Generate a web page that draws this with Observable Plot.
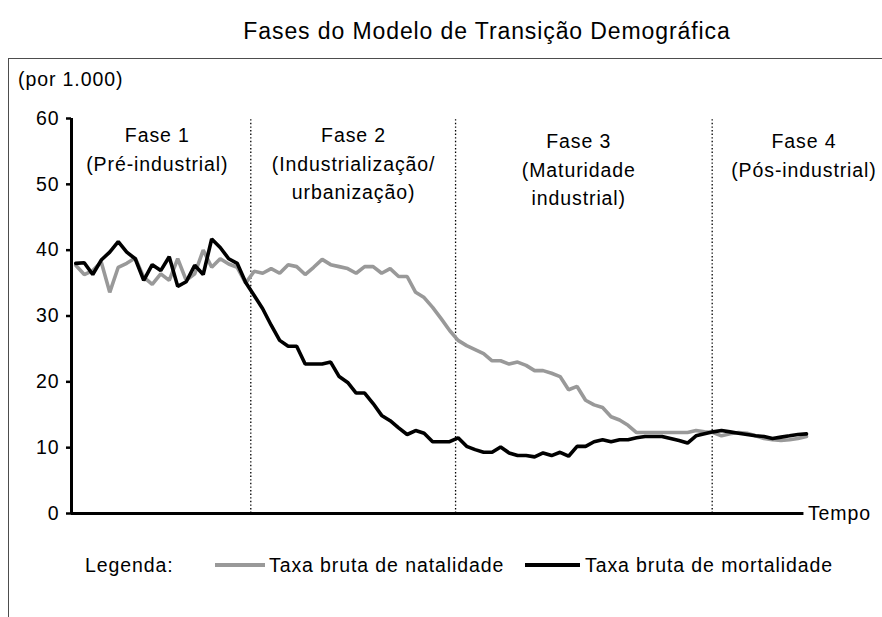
<!DOCTYPE html>
<html>
<head>
<meta charset="utf-8">
<script src="https://cdn.jsdelivr.net/npm/d3@7"></script>
<script src="https://cdn.jsdelivr.net/npm/@observablehq/plot@0.6"></script>
<style>
  html, body { margin: 0; padding: 0; background: #fff; }
  body { width: 882px; height: 617px; overflow: hidden; position: relative;
         font-family: "Liberation Sans", Arial, sans-serif; color: #000; letter-spacing: 0.9px; }
  #title { position: absolute; left: 487px; top: 18px; transform: translateX(-50%);
           font-size: 23px; white-space: nowrap; }
  #frame { position: absolute; left: 8px; top: 58px; width: 900px; height: 600px;
           border-left: 1.5px solid #4d4d4d; border-top: 1.5px solid #4d4d4d; }
  #ylabel { position: absolute; left: 18px; top: 68px; font-size: 19.5px; white-space: nowrap; }
  #chart { position: absolute; left: 0; top: 58px; }
  #chart svg { overflow: visible; }
  .leg { position: absolute; top: 553px; font-size: 19.5px; white-space: nowrap; line-height: 24px; }
  .sw { position: absolute; height: 4px; top: 563px; }
</style>
</head>
<body>
<div id="title">Fases do Modelo de Transição Demográfica</div>
<div id="frame"></div>
<div id="ylabel">(por 1.000)</div>
<div id="chart"></div>
<div class="leg" style="left:85px">Legenda:</div>
<div class="sw" style="left:215px;width:50px;background:#999"></div>
<div class="leg" style="left:269px">Taxa bruta de natalidade</div>
<div class="sw" style="left:525px;width:55px;background:#000"></div>
<div class="leg" style="left:585px">Taxa bruta de mortalidade</div>
<script>
// Taxa bruta de natalidade (por 1.000), one value per time step
const natalidade = [37.7,36.3,36.9,38.2,33.6,37.4,38.0,38.8,35.9,34.8,
  36.4,35.4,38.7,35.4,36.4,40.0,37.4,38.7,37.9,37.4,
  35.0,36.8,36.5,37.2,36.5,37.8,37.5,36.3,37.4,38.6,
  37.8,37.5,37.2,36.5,37.5,37.5,36.5,37.2,36.0,36.0,
  33.6,32.8,31.3,29.6,27.8,26.3,25.5,24.9,24.3,23.2,
  23.2,22.7,23.0,22.5,21.7,21.7,21.3,20.8,18.8,19.3,
  17.2,16.5,16.1,14.7,14.2,13.4,12.3,12.3,12.3,12.3,
  12.3,12.3,12.3,12.6,12.4,12.3,11.8,12.1,12.3,12.2,
  11.8,11.4,11.2,11.1,11.2,11.4,11.7];
// Taxa bruta de mortalidade (por 1.000)
const mortalidade = [38.0,38.1,36.3,38.5,39.7,41.3,39.7,38.7,35.4,37.8,
  36.9,39.0,34.5,35.2,37.7,36.3,41.7,40.4,38.7,38.0,
  35.1,33.1,31.1,28.6,26.3,25.4,25.4,22.7,22.7,22.7,
  23.0,20.8,19.9,18.3,18.3,16.7,14.9,14.1,13.0,12.0,
  12.6,12.2,10.9,10.9,10.9,11.5,10.2,9.7,9.3,9.3,
  10.1,9.2,8.8,8.8,8.6,9.2,8.8,9.3,8.7,10.2,
  10.2,10.9,11.2,10.9,11.2,11.2,11.5,11.7,11.7,11.7,
  11.4,11.1,10.7,11.8,12.1,12.4,12.6,12.4,12.2,12.0,
  11.8,11.7,11.4,11.6,11.8,12.0,12.1];
const yTicks = [0, 10, 20, 30, 40, 50, 60];
const timeStart = -0.5;       // origin of the time axis
const timeEnd = 85.7;         // end of the time axis ("Tempo")
const phaseBounds = [20.6, 44.7, 74.9];
const phaseCenters = [9.6, 32.7, 59.2, 85.7];
const phaseTop = [59.45, 59.45, 58.55, 58.55];
const phaseTexts = [
  "Fase 1\n(Pré-industrial)",
  "Fase 2\n(Industrialização/\nurbanização)",
  "Fase 3\n(Maturidade\nindustrial)",
  "Fase 4\n(Pós-industrial)"
];

const phases = phaseTexts.map((text, i) => ({text, x: phaseCenters[i], y: phaseTop[i]}));
const nat = natalidade.map((v, i) => ({t: i, v}));
const mort = mortalidade.map((v, i) => ({t: i, v}));

const chart = Plot.plot({
  width: 882,
  height: 559,
  marginLeft: 71,
  marginRight: 76,
  marginTop: 60,
  marginBottom: 104,
  x: {domain: [timeStart, 86], axis: null},
  y: {domain: [0, 60], axis: null},
  style: {fontFamily: "'Liberation Sans', Arial, sans-serif", fontSize: "19.5px", color: "#000", background: "transparent", letterSpacing: "0.9px"},
  marks: [
    Plot.ruleX(phaseBounds, {y1: 0, y2: 60, stroke: "#000", strokeWidth: 1.3, strokeDasharray: "1.4,2.2"}),
    Plot.text(phases, {x: "x", y: "y", text: "text", lineAnchor: "top", lineHeight: 1.46, fontSize: 19.5, fill: "#000"}),
    Plot.line(nat, {x: "t", y: "v", stroke: "#999", strokeWidth: 3.6, strokeLinejoin: "miter"}),
    Plot.line(mort, {x: "t", y: "v", stroke: "#000", strokeWidth: 3.6, strokeLinejoin: "miter"}),
    Plot.ruleY([0], {x1: timeStart, x2: timeEnd, stroke: "#000", strokeWidth: 3}),
    Plot.ruleX([timeStart], {y1: 0, y2: 60, stroke: "#000", strokeWidth: 3}),
    Plot.axisY(yTicks, {tickSize: 5, tickPadding: 7, fontSize: 19.5, strokeWidth: 2.5, stroke: "#000"}),
    Plot.text(["Tempo"], {x: timeEnd, y: 0, text: d => d, textAnchor: "start", dx: 4, fontSize: 19.5, fill: "#000"})
  ]
});
document.getElementById("chart").appendChild(chart);
</script>
</body>
</html>
